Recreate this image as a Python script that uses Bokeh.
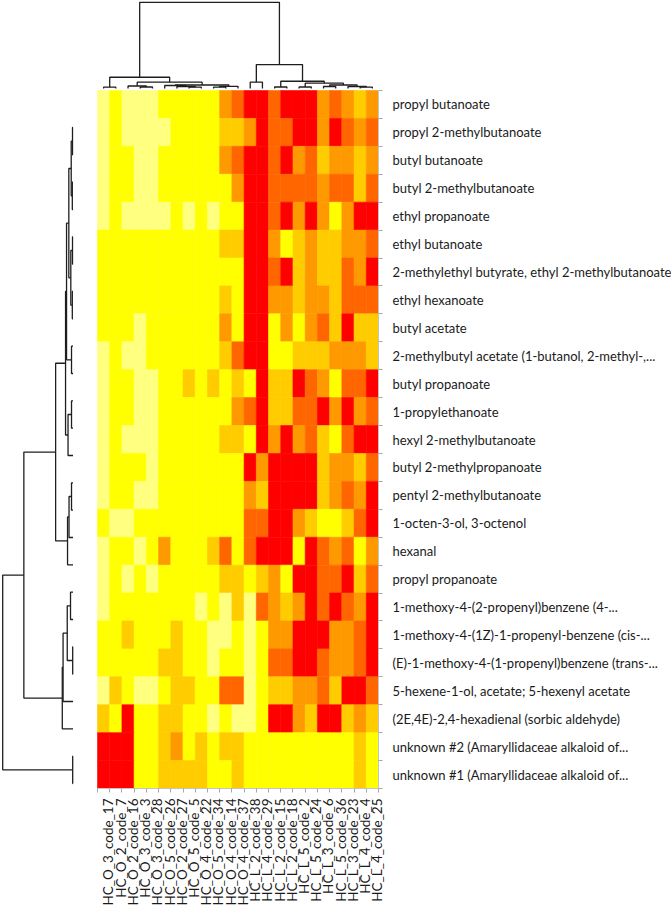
import math
from bokeh.plotting import figure
from bokeh.models import Range1d, FixedTicker, ColumnDataSource, LinearColorMapper, LinearAxis
from bokeh.embed import file_html
from bokeh.resources import INLINE

compounds = [
    "propyl butanoate",
    "propyl 2-methylbutanoate",
    "butyl butanoate",
    "butyl 2-methylbutanoate",
    "ethyl propanoate",
    "ethyl butanoate",
    "2-methylethyl butyrate, ethyl 2-methylbutanoate",
    "ethyl hexanoate",
    "butyl acetate",
    "2-methylbutyl acetate (1-butanol, 2-methyl-,...",
    "butyl propanoate",
    "1-propylethanoate",
    "hexyl 2-methylbutanoate",
    "butyl 2-methylpropanoate",
    "pentyl 2-methylbutanoate",
    "1-octen-3-ol, 3-octenol",
    "hexanal",
    "propyl propanoate",
    "1-methoxy-4-(2-propenyl)benzene (4-...",
    "1-methoxy-4-(1Z)-1-propenyl-benzene (cis-...",
    "(E)-1-methoxy-4-(1-propenyl)benzene (trans-...",
    "5-hexene-1-ol, acetate; 5-hexenyl acetate",
    "(2E,4E)-2,4-hexadienal (sorbic aldehyde)",
    "unknown #2 (Amaryllidaceae alkaloid of...",
    "unknown #1 (Amaryllidaceae alkaloid of...",
]

samples = [
    "HC_O_3_code_17", "HC_O_2_code_7", "HC_O_2_code_16", "HC_O_3_code_3",
    "HC_O_3_code_28", "HC_O_5_code_26", "HC_O_2_code_27", "HC_O_5_code_5",
    "HC_O_4_code_22", "HC_O_5_code_34", "HC_O_4_code_14", "HC_O_4_code_37",
    "HC_L_2_code_38", "HC_L_4_code_29", "HC_L_2_code_15", "HC_L_2_code_18",
    "HC_L_5_code_2", "HC_L_5_code_24", "HC_L_3_code_6", "HC_L_5_code_36",
    "HC_L_3_code_23", "HC_L_4_code_4", "HC_L_4_code_25",
]

# colour level of each cell (0 = lowest / pale yellow ... 5 = highest / red)
levels = [
    [0, 1, 0, 0, 0, 1, 1, 1, 1, 1, 3, 4, 5, 5, 4, 5, 5, 5, 3, 4, 3, 2, 3],
    [0, 1, 0, 0, 0, 0, 1, 1, 1, 1, 2, 2, 3, 5, 4, 4, 5, 5, 3, 5, 4, 3, 4],
    [0, 1, 1, 0, 0, 1, 1, 1, 1, 1, 3, 4, 5, 5, 4, 5, 3, 4, 2, 3, 3, 2, 3],
    [0, 1, 1, 0, 0, 1, 1, 1, 1, 1, 1, 3, 5, 5, 4, 4, 4, 4, 3, 4, 4, 2, 4],
    [0, 1, 0, 0, 0, 0, 1, 0, 1, 0, 1, 1, 5, 5, 4, 5, 3, 5, 3, 1, 3, 5, 5],
    [1, 1, 1, 1, 1, 1, 1, 1, 1, 1, 2, 2, 5, 5, 3, 1, 2, 3, 2, 2, 3, 3, 4],
    [1, 1, 1, 1, 1, 1, 1, 1, 1, 1, 1, 1, 5, 5, 4, 5, 2, 3, 2, 2, 4, 3, 5],
    [1, 1, 1, 1, 1, 1, 1, 1, 1, 1, 2, 1, 5, 5, 3, 3, 2, 3, 3, 2, 4, 4, 4],
    [1, 1, 1, 0, 1, 1, 1, 1, 1, 1, 3, 1, 5, 5, 1, 3, 1, 3, 4, 2, 5, 2, 2],
    [0, 1, 0, 0, 1, 1, 1, 1, 1, 1, 2, 4, 5, 5, 1, 1, 2, 2, 2, 3, 3, 3, 2],
    [0, 1, 1, 0, 0, 1, 1, 2, 1, 2, 1, 2, 1, 5, 2, 2, 5, 4, 3, 1, 4, 4, 5],
    [0, 1, 1, 0, 0, 1, 1, 1, 1, 1, 1, 3, 4, 5, 2, 2, 4, 4, 5, 3, 5, 3, 4],
    [0, 1, 0, 0, 0, 1, 1, 1, 1, 1, 2, 2, 1, 5, 3, 5, 3, 4, 2, 1, 4, 5, 5],
    [0, 1, 1, 1, 0, 1, 1, 1, 1, 1, 1, 1, 5, 3, 5, 5, 5, 5, 2, 3, 3, 2, 4],
    [0, 1, 1, 0, 0, 1, 1, 1, 1, 1, 1, 1, 3, 2, 5, 5, 5, 5, 2, 3, 4, 3, 5],
    [1, 0, 0, 1, 1, 1, 1, 1, 1, 1, 1, 1, 4, 4, 5, 5, 3, 2, 1, 1, 2, 4, 5],
    [0, 1, 1, 0, 1, 3, 1, 1, 1, 2, 4, 1, 4, 5, 5, 5, 1, 5, 4, 3, 4, 1, 3],
    [0, 1, 0, 1, 0, 1, 1, 1, 1, 1, 2, 2, 1, 2, 3, 1, 5, 5, 4, 4, 5, 2, 4],
    [0, 1, 1, 1, 1, 1, 1, 1, 0, 1, 0, 2, 0, 4, 3, 2, 3, 5, 4, 5, 4, 3, 5],
    [1, 1, 2, 1, 1, 1, 2, 1, 1, 0, 0, 1, 0, 1, 3, 3, 5, 5, 5, 3, 3, 4, 5],
    [1, 1, 1, 1, 1, 2, 2, 1, 1, 0, 1, 1, 0, 1, 4, 4, 5, 5, 4, 3, 3, 4, 5],
    [0, 2, 1, 0, 0, 1, 2, 2, 1, 1, 4, 4, 0, 1, 2, 2, 3, 3, 4, 2, 5, 5, 4],
    [2, 1, 5, 1, 1, 2, 2, 1, 1, 0, 1, 0, 0, 1, 5, 5, 3, 2, 5, 5, 2, 3, 2],
    [5, 5, 5, 1, 1, 2, 3, 1, 2, 1, 2, 2, 1, 1, 1, 1, 1, 1, 1, 1, 1, 2, 1],
    [5, 5, 5, 1, 1, 2, 2, 2, 2, 1, 1, 2, 1, 1, 1, 1, 1, 1, 1, 1, 1, 2, 1],
]

palette = ["#FFFF80", "#FFFF00", "#FFCC00", "#FF9900", "#FF6600", "#FF0000"]

# row dendrogram: (child a, child b, merge height); ids >= 25 are earlier merges
row_merges = [
    (0, 1, 0.5), (2, 3, 0.7), (25, 26, 1.8), (4, 5, 0.5), (6, 7, 0.7),
    (28, 29, 2.2), (27, 30, 4.2), (8, 9, 1.5), (31, 32, 6.5), (10, 11, 1.5),
    (34, 12, 5.0), (33, 35, 7.5), (13, 14, 1.5), (37, 15, 4.0), (38, 16, 5.5),
    (36, 39, 17.5), (17, 18, 2.5), (19, 20, 0.3), (41, 42, 5.8), (43, 21, 10.0),
    (44, 22, 10.8), (40, 45, 49.5), (23, 24, 0.3), (46, 47, 70.8),
]

# column dendrogram: ids >= 23 are earlier merges
col_merges = [
    (0, 1, 1.3), (3, 4, 1.5), (2, 24, 2.5), (7, 8, 1.3), (6, 26, 2.0),
    (5, 27, 3.0), (9, 10, 1.3), (29, 11, 2.2), (28, 30, 3.5), (25, 31, 6.3),
    (23, 32, 11.3), (12, 13, 6.3), (14, 15, 1.5), (16, 17, 1.5), (18, 19, 2.0),
    (21, 22, 1.3), (20, 38, 2.0), (37, 39, 3.5), (36, 40, 5.3), (35, 41, 7.3),
    (34, 42, 24.0), (33, 43, 86.5),
]

n_rows, n_cols = len(compounds), len(samples)

# ---- geometry (pixels) ----
FRAME_W, FRAME_H = 378, 788
HEAT_LEFT, HEAT_TOP = 97, 90
col_px = (FRAME_W - HEAT_LEFT) / n_cols
row_px = (FRAME_H - HEAT_TOP) / n_rows
x_lo = -0.5 - HEAT_LEFT / col_px
y_top = -0.5 - HEAT_TOP / row_px


def xd(px):  # pixel column -> data x
    return -0.5 + (px - HEAT_LEFT) / col_px


def yd(px):  # pixel row -> data y
    return -0.5 + (px - HEAT_TOP) / row_px


p = figure(frame_width=FRAME_W, frame_height=FRAME_H,
           x_range=Range1d(x_lo, n_cols - 0.5),
           y_range=Range1d(n_rows - 0.5, y_top),
           x_axis_location=None, y_axis_location=None,
           output_backend="svg", toolbar_location=None,
           min_border_left=0, min_border_top=0,
           min_border_right=671 - FRAME_W, min_border_bottom=906 - FRAME_H)
p.outline_line_color = None
p.grid.visible = False
p.background_fill_color = "white"
p.border_fill_color = "white"

# ---- heatmap cells ----
xs, ys, vs = [], [], []
for r in range(n_rows):
    for c in range(n_cols):
        xs.append(c)
        ys.append(r)
        vs.append(levels[r][c])
mapper = LinearColorMapper(palette=palette, low=-0.5, high=len(palette) - 0.5)
src = ColumnDataSource(dict(x=xs, y=ys, v=vs))
p.rect(x="x", y="y", width=1, height=1, source=src,
       fill_color={"field": "v", "transform": mapper},
       line_color={"field": "v", "transform": mapper}, line_width=0.6)


def dendro(merges, n_leaves, leaf_pos):
    pos = {i: leaf_pos[i] for i in range(n_leaves)}
    hgt = {i: 0.0 for i in range(n_leaves)}
    P, Hh = [], []
    for k, (a, b, h) in enumerate(merges):
        P.append([pos[a], pos[a], pos[b], pos[b]])
        Hh.append([hgt[a], h, h, hgt[b]])
        pos[n_leaves + k] = (pos[a] + pos[b]) / 2
        hgt[n_leaves + k] = h
    return P, Hh


LINE = "#1e1e1e"

# row dendrogram on the left (leaves at x=72.5px, root at x=2px)
leaf0, leafN = yd(127), yd(783)
row_leaf = [leaf0 + i * (leafN - leaf0) / (n_rows - 1) for i in range(n_rows)]
rP, rH = dendro(row_merges, n_rows, row_leaf)
rx0 = xd(72.5)
rscale = (rx0 - xd(2.2)) / row_merges[-1][2]
p.multi_line(xs=[[rx0 - h * rscale for h in hs] for hs in rH], ys=rP,
             line_color=LINE, line_width=1.3)

# column dendrogram on top (leaves at y=88px, root at y=1.5px)
cP, cH = dendro(col_merges, n_cols, list(range(n_cols)))
cy0 = yd(88)
cscale = (cy0 - yd(1.8)) / col_merges[-1][2]
p.multi_line(xs=cP, ys=[[cy0 - h * cscale for h in hs] for hs in cH],
             line_color=LINE, line_width=1.3)

FONT = "Lato"

yax = LinearAxis(ticker=FixedTicker(ticks=list(range(n_rows)),
                                    minor_ticks=[k - 0.5 for k in range(n_rows + 1)]),
                 major_label_overrides={i: s for i, s in enumerate(compounds)},
                 bounds=(-0.5, n_rows - 0.5))
yax.axis_line_color = "#c4c4c4"
yax.major_tick_line_color = None
yax.major_tick_out = 0
yax.major_tick_in = 0
yax.minor_tick_line_color = "#a8a8a8"
yax.minor_tick_out = 4
yax.minor_tick_in = 0
yax.major_label_standoff = 10
yax.major_label_text_font = FONT
yax.major_label_text_font_size = "13px"
yax.major_label_text_color = "#1a1a1a"
p.add_layout(yax, "right")

LABEL_SHIFT = 0.4
xax = LinearAxis(ticker=FixedTicker(ticks=[c + LABEL_SHIFT for c in range(n_cols)],
                                    minor_ticks=[k - 0.5 for k in range(n_cols + 1)]),
                 major_label_overrides={c + LABEL_SHIFT: s for c, s in enumerate(samples)},
                 major_label_orientation=math.pi / 2,
                 bounds=(-0.5, n_cols - 0.5))
xax.axis_line_color = "#c4c4c4"
xax.major_tick_line_color = None
xax.major_tick_out = 0
xax.major_tick_in = 0
xax.minor_tick_line_color = "#a8a8a8"
xax.minor_tick_out = 4
xax.minor_tick_in = 0
xax.major_label_standoff = 6
xax.major_label_text_font = FONT
xax.major_label_text_font_size = "13.5px"
xax.major_label_text_color = "#1a1a1a"
p.add_layout(xax, "below")

open("out.html", "w").write(file_html(p, INLINE))
